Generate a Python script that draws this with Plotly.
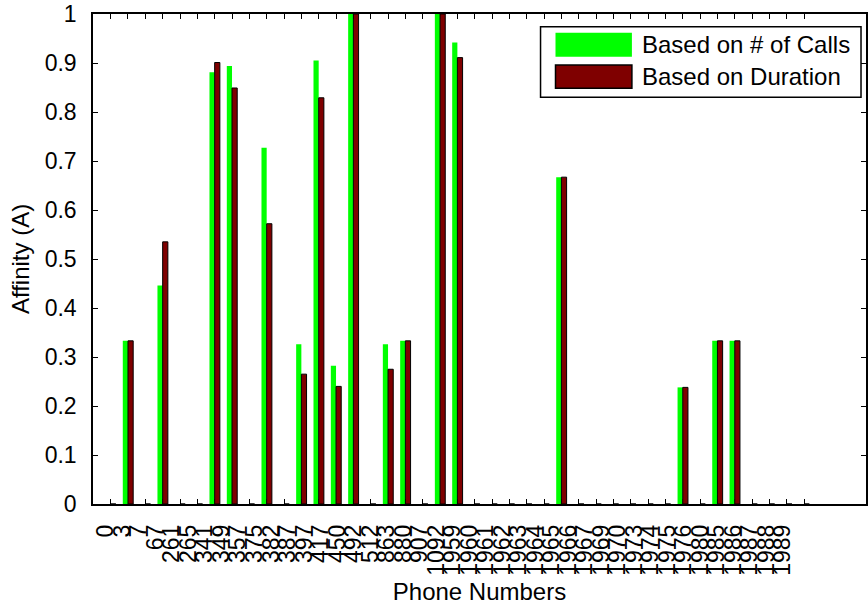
import plotly.graph_objects as go

# ---------------- data ----------------
phone_numbers = ["0", "3", "7", "67", "261", "265", "341", "349", "357", "375",
                 "382", "387", "397", "417", "450", "492", "512", "863", "880", "907",
                 "1092", "1959", "1960", "1961", "1962", "1963", "1964", "1965", "1966", "1967",
                 "1969", "1970", "1973", "1974", "1975", "1976", "1980", "1985", "1986", "1987",
                 "1988", "1989"]

calls_affinity = [0, 0.333, 0, 0.446, 0, 0, 0.881, 0.894, 0, 0.727,
                  0, 0.326, 0.905, 0.282, 1.0, 0, 0.326, 0.333, 0, 1.0,
                  0.942, 0, 0, 0, 0, 0, 0.667, 0, 0, 0,
                  0, 0, 0, 0.238, 0, 0.333, 0.333, 0, 0, 0,
                  0]

duration_affinity = [0, 0.333, 0, 0.535, 0, 0, 0.901, 0.849, 0, 0.572,
                     0, 0.265, 0.829, 0.240, 1.0, 0, 0.275, 0.333, 0, 1.0,
                     0.911, 0, 0, 0, 0, 0, 0.667, 0, 0, 0,
                     0, 0, 0, 0.238, 0, 0.333, 0.333, 0, 0, 0,
                     0]

series_names = ["Based on # of Calls", "Based on Duration"]
series_colors = ["#00FF00", "#7F0000"]
series_edges = ["#00FF00", "#000000"]

bar_positions = list(range(1, len(calls_affinity) + 1))
label_positions = list(range(len(phone_numbers)))

# ---------------- figure ----------------
W, H = 868, 606
L, R, T, B = 93, 0, 14, 102
PW, PH = W - L - R, H - T - B

FONT = "Liberation Sans, Arial, sans-serif"

fig = go.Figure()
series_values = [calls_affinity, duration_affinity]
offsets = [-0.3, 0.0]
for name, vals, col, edge, off in zip(series_names, series_values, series_colors, series_edges, offsets):
    fig.add_trace(go.Bar(
        x=bar_positions, y=vals, name=name,
        marker=dict(color=col, line=dict(color=edge, width=1 if edge == "#000000" else 0)),
        width=0.3, offset=off, xaxis="x", yaxis="y", showlegend=False,
    ))

# carrier trace for the label axis (draws nothing)
fig.add_trace(go.Scatter(x=label_positions, y=[None] * len(label_positions),
                         xaxis="x2", yaxis="y", mode="lines", showlegend=False,
                         hoverinfo="skip"))

# ---------------- custom legend ----------------
def px(x):
    return (x - L) / PW


def py(y):
    return (H - B - y) / PH


shapes = [dict(type="rect", xref="paper", yref="paper",
               x0=px(541.7), x1=px(863), y0=py(97.3), y1=py(26.7),
               line=dict(color="black", width=1.5), fillcolor="white", layer="above")]
annotations = []
rows = [(32.7, 56.7), (65.0, 88.3)]
for (ya, yb), name, col, edge in zip(rows, series_names, series_colors, series_edges):
    shapes.append(dict(type="rect", xref="paper", yref="paper",
                       x0=px(556.7), x1=px(633.3), y0=py(yb), y1=py(ya),
                       line=dict(color=edge, width=1.5 if edge == "#000000" else 0),
                       fillcolor=col, layer="above"))
    annotations.append(dict(xref="paper", yref="paper", x=px(641.7), y=py((ya + yb) / 2),
                            xanchor="left", yanchor="middle", showarrow=False,
                            text=name, font=dict(family=FONT, size=24, color="black")))

fig.update_layout(
    width=W, height=H,
    margin=dict(l=L, r=R, t=T, b=B, pad=0),
    paper_bgcolor="white", plot_bgcolor="white",
    barmode="overlay", showlegend=False,
    font=dict(family=FONT, size=23, color="black"),
    xaxis=dict(range=[-0.0184, 44.57], tickmode="array", tickvals=bar_positions,
               showticklabels=False, ticks="inside", ticklen=5, tickwidth=1,
               tickcolor="black", showline=True, linecolor="black", linewidth=1.5,
               mirror="ticks", showgrid=False, zeroline=False, layer="below traces"),
    xaxis2=dict(overlaying="x", anchor="y", side="bottom", range=[-0.7855, 46.04],
                tickmode="array", tickvals=label_positions, ticktext=phone_numbers,
                tickangle=-90, ticks="", showline=False, showgrid=False, zeroline=False,
                ticklabelstandoff=15,
                tickfont=dict(family=FONT, size=23, color="black"),
                title=dict(text="Phone Numbers", standoff=8,
                           font=dict(family=FONT, size=24, color="black"))),
    yaxis=dict(range=[0, 1], dtick=0.1, tick0=0, ticks="inside", ticklen=5, tickwidth=1,
               tickcolor="black", showline=True, linecolor="black", linewidth=1.5,
               mirror="ticks", showgrid=False, zeroline=False, ticklabelstandoff=10,
               tickfont=dict(family=FONT, size=23, color="black"),
               title=dict(text="Affinity (A)", standoff=8,
                          font=dict(family=FONT, size=24, color="black"))),
    shapes=shapes, annotations=annotations,
)

fig.write_html("out.html")
